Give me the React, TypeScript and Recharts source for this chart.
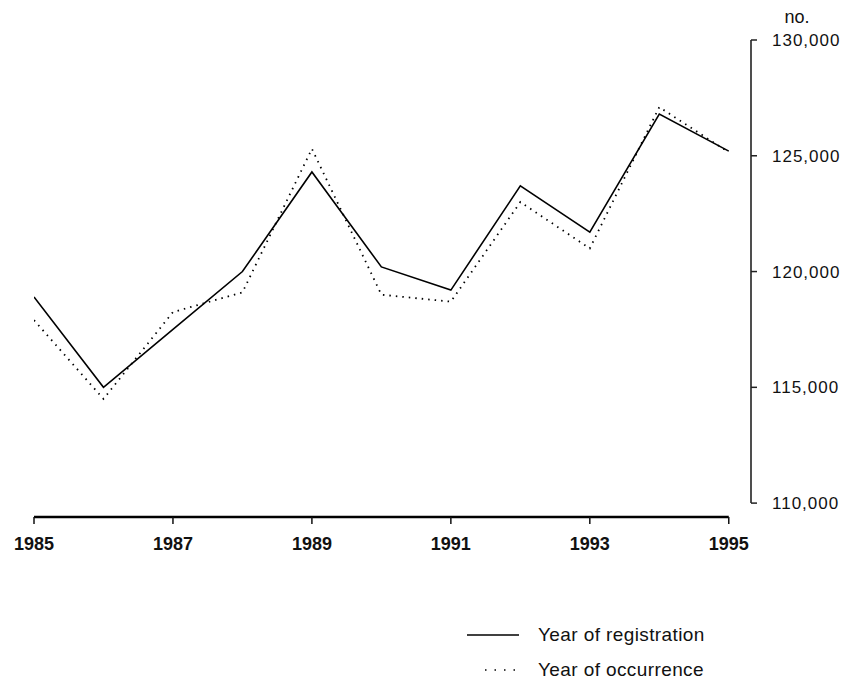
import React from "react";
import { LineChart, Line, XAxis, YAxis, ReferenceLine } from "recharts";

const years = [1985, 1986, 1987, 1988, 1989, 1990, 1991, 1992, 1993, 1994, 1995];
const registration = [118900, 115000, 117500, 120000, 124300, 120200, 119200, 123700, 121700, 126800, 125200];
const occurrence = [117900, 114500, 118250, 119100, 125300, 119000, 118700, 123000, 121000, 127100, 125150];
const xTicks = [1985, 1987, 1989, 1991, 1993, 1995];
const yTicks = [110000, 115000, 120000, 125000, 130000];
const seriesNames = ["Year of registration", "Year of occurrence"];

const X_MIN = 1985;
const X_MAX = 1995.32;
const Y_MIN = 109400;
const Y_MAX = 130000;

const data = years.map((y, i) => ({ year: y, reg: registration[i], occ: occurrence[i] }));

const FONT = '"Liberation Sans", Arial, Helvetica, sans-serif';

const NoLabel = (props: any) => {
  const vb = props.viewBox || {};
  return (
    <text x={vb.x + 46} y={vb.y - 17} textAnchor="middle" fontFamily={FONT} fontSize={18} fill="#111">
      no.
    </text>
  );
};

export default function App() {
  return (
    <div style={{ position: "absolute", left: 0, top: 0, width: 854, height: 689, background: "#fff" }}>
      <LineChart width={854} height={689} data={data} margin={{ top: 40, right: 0, left: 34, bottom: 132 }}>
        <XAxis
          dataKey="year"
          type="number"
          domain={[X_MIN, X_MAX]}
          ticks={xTicks}
          axisLine={false}
          tickLine={{ stroke: "#111", strokeWidth: 1.5 }}
          tickSize={7}
          tickMargin={13}
          height={40}
          tick={{ fontFamily: FONT, fontSize: 18, fontWeight: "bold", fill: "#111" }}
          allowDataOverflow
        />
        <YAxis
          orientation="right"
          type="number"
          domain={[Y_MIN, Y_MAX]}
          ticks={yTicks}
          width={103}
          axisLine={false}
          tickLine={{ stroke: "#222", strokeWidth: 1.5 }}
          tickSize={6}
          tickMargin={15}
          tickFormatter={(v: number) => v.toLocaleString("en-US")}
          tick={{ fontFamily: FONT, fontSize: 17, fill: "#111", letterSpacing: 1 }}
          label={NoLabel}
          allowDataOverflow
        />
        <ReferenceLine
          segment={[{ x: X_MIN, y: Y_MIN }, { x: years[years.length - 1], y: Y_MIN }]}
          stroke="#000"
          strokeWidth={2.5}
          ifOverflow="visible"
        />
        <ReferenceLine
          segment={[{ x: X_MAX, y: yTicks[0] }, { x: X_MAX, y: yTicks[yTicks.length - 1] }]}
          stroke="#222"
          strokeWidth={1.6}
          ifOverflow="visible"
        />
        <Line
          type="linear"
          dataKey="reg"
          name={seriesNames[0]}
          stroke="#000"
          strokeWidth={1.6}
          dot={false}
          isAnimationActive={false}
        />
        <Line
          type="linear"
          dataKey="occ"
          name={seriesNames[1]}
          stroke="#000"
          strokeWidth={1.8}
          strokeDasharray="1.5 5"
          dot={false}
          isAnimationActive={false}
        />
      </LineChart>
      <div style={{ position: "absolute", left: 467, top: 623, fontFamily: FONT, fontSize: 19, letterSpacing: 0.4, color: "#111" }}>
        <div style={{ display: "flex", alignItems: "center", height: 24 }}>
          <svg width={52} height={4} style={{ marginRight: 19 }}>
            <line x1={0} y1={2} x2={52} y2={2} stroke="#000" strokeWidth={1.3} />
          </svg>
          <span>{seriesNames[0]}</span>
        </div>
        <div style={{ display: "flex", alignItems: "center", height: 24, marginTop: 11 }}>
          <svg width={52} height={4} style={{ marginRight: 19 }}>
            <line x1={18} y1={2} x2={52} y2={2} stroke="#000" strokeWidth={1.5} strokeDasharray="1.5 8" />
          </svg>
          <span>{seriesNames[1]}</span>
        </div>
      </div>
    </div>
  );
}
